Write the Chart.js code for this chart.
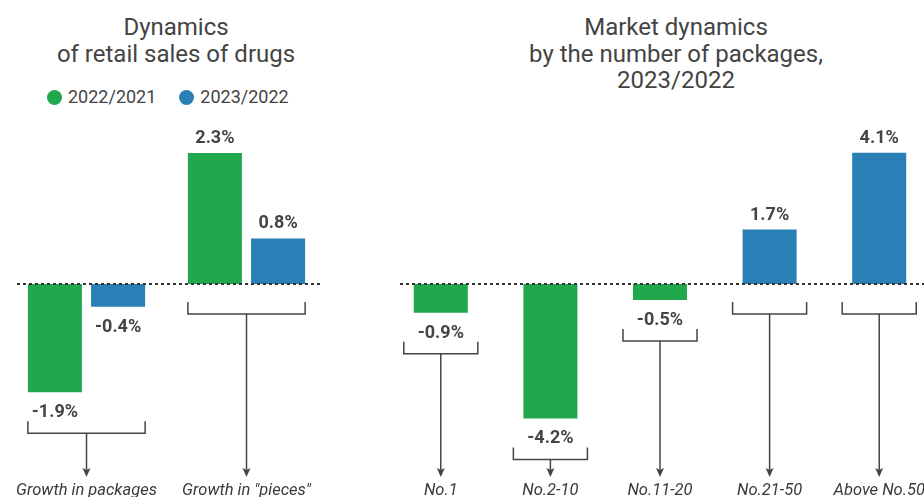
<!DOCTYPE html>
<html>
<head>
<meta charset="utf-8">
<script src="https://cdn.jsdelivr.net/npm/chart.js@4"></script>
<style>
  html, body { margin: 0; padding: 0; background: #fff; }
  body { width: 924px; height: 497px; position: relative; overflow: hidden; font-family: Roboto, "Noto Sans", sans-serif; color: #444; }
  canvas { position: absolute; top: 0; }
  #graficoVendas { left: 0; }
  #graficoPacotes { left: 386px; }
  .titulo { position: absolute; top: 14px; text-align: center; font-size: 24px; line-height: 26.5px; color: #444; white-space: nowrap; }
  #tituloVendas { left: 26px; width: 300px; }
  #tituloPacotes { left: 526px; width: 300px; }
  #legenda { position: absolute; left: 47px; top: 86px; display: flex; align-items: center; font-size: 18px; line-height: 22px; color: #444; }
  #legenda span.item { display: flex; align-items: center; margin-right: 23px; }
  #legenda i { display: inline-block; width: 15px; height: 15px; border-radius: 50%; margin-right: 6px; }
</style>
</head>
<body>
<div class="titulo" id="tituloVendas">Dynamics<br>of retail sales of drugs</div>
<div id="legenda"></div>
<div class="titulo" id="tituloPacotes">Market dynamics<br>by the number of packages,<br>2023/2022</div>
<canvas id="graficoVendas" width="333" height="497"></canvas>
<canvas id="graficoPacotes" width="548" height="497"></canvas>
<script>
// Retail sales: two periods per indicator
const categoriasVendas = ['Growth in packages', 'Growth in "pieces"'];
const series = ['2022/2021', '2023/2022'];
const valores2022 = [-1.9, 2.3];
const valores2023 = [-0.4, 0.8];

// Market by number of packages, 2023/2022
const categoriasPacotes = ['No.1', 'No.2-10', 'No.11-20', 'No.21-50', 'Above No.50'];
const valoresPacotes = [-0.9, -4.2, -0.5, 1.7, 4.1];

const VERDE = '#21a74c';
const AZUL = '#2a80b6';
const TEXTO = '#444';

// legenda em HTML
const legenda = document.getElementById('legenda');
[VERDE, AZUL].forEach((cor, i) => {
  const item = document.createElement('span');
  item.className = 'item';
  item.innerHTML = `<i style="background:${cor}"></i>${series[i]}`;
  legenda.appendChild(item);
});

function formatar(v) {
  return v.toFixed(1) + '%';
}

// Linha zero tracejada, rótulos de valor, colchetes e setas até a categoria
const anotacoes = {
  id: 'anotacoes',
  afterDatasetsDraw(chart, args, opts) {
    const ctx = chart.ctx;
    const x = chart.scales.x;
    const y = chart.scales.y;
    const zero = y.getPixelForValue(0);

    ctx.save();
    // linha do zero
    ctx.strokeStyle = '#333';
    ctx.lineWidth = 2;
    ctx.setLineDash([3, 3]);
    ctx.beginPath();
    ctx.moveTo(opts.linhaDe, zero);
    ctx.lineTo(opts.linhaAte, zero);
    ctx.stroke();
    ctx.setLineDash([]);

    // rótulos
    ctx.fillStyle = TEXTO;
    ctx.font = 'bold 18px Roboto';
    ctx.textAlign = 'center';
    ctx.textBaseline = 'alphabetic';
    chart.data.datasets.forEach((ds, d) => {
      chart.getDatasetMeta(d).data.forEach((barra, i) => {
        const v = ds.data[i];
        if (v >= 0) ctx.fillText(formatar(v), barra.x, barra.y - 10);
        else ctx.fillText(formatar(v), barra.x, barra.y + 25);
      });
    });

    // colchetes e setas
    ctx.strokeStyle = TEXTO;
    ctx.lineWidth = 1.5;
    chart.data.labels.forEach((rotulo, i) => {
      let esq = Infinity, dir = -Infinity, topo = zero + 18;
      chart.data.datasets.forEach((ds, d) => {
        const barra = chart.getDatasetMeta(d).data[i];
        esq = Math.min(esq, barra.x - barra.width / 2 - opts.folga);
        dir = Math.max(dir, barra.x + barra.width / 2 + opts.folga);
        if (ds.data[i] < 0) topo = Math.max(topo, barra.y + 29);
      });
      const cx = x.getPixelForValue(i);
      const base = topo + 12;
      ctx.beginPath();
      ctx.moveTo(esq, topo);
      ctx.lineTo(esq, base);
      ctx.lineTo(dir, base);
      ctx.lineTo(dir, topo);
      ctx.moveTo(cx, base);
      ctx.lineTo(cx, 470);
      ctx.stroke();
      // ponta da seta
      ctx.beginPath();
      ctx.moveTo(cx, 477);
      ctx.lineTo(cx - 4, 468);
      ctx.lineTo(cx, 470);
      ctx.lineTo(cx + 4, 468);
      ctx.closePath();
      ctx.fillStyle = TEXTO;
      ctx.fill();

      ctx.fillStyle = '#3a3a3a';
      ctx.font = 'italic 16.5px Roboto';
      ctx.fillText(rotulo, cx, 495);
    });
    ctx.restore();
  }
};

const escalas = (min, max) => ({
  x: { display: false },
  y: { display: false, min: min, max: max }
});

new Chart(document.getElementById('graficoVendas'), {
  type: 'bar',
  data: {
    labels: categoriasVendas,
    datasets: [
      { label: series[0], data: valores2022, backgroundColor: VERDE },
      { label: series[1], data: valores2023, backgroundColor: AZUL }
    ]
  },
  options: {
    responsive: false,
    animation: false,
    categoryPercentage: 0.79,
    barPercentage: 0.855,
    layout: { padding: { top: 113, bottom: 13.5, left: 6.5, right: 6.5 } },
    scales: escalas(-3.5, 3),
    plugins: {
      legend: { display: false },
      tooltip: { enabled: false },
      anotacoes: { linhaDe: 17, linhaAte: 320, folga: 0 }
    }
  },
  plugins: [anotacoes]
});

new Chart(document.getElementById('graficoPacotes'), {
  type: 'bar',
  data: {
    labels: categoriasPacotes,
    datasets: [{
      label: '2023/2022',
      data: valoresPacotes,
      backgroundColor: valoresPacotes.map(v => v < 0 ? VERDE : AZUL)
    }]
  },
  options: {
    responsive: false,
    animation: false,
    categoryPercentage: 1,
    barPercentage: 0.493,
    layout: { padding: { top: 124, bottom: 21, left: 0, right: 0 } },
    scales: escalas(-6, 5),
    plugins: {
      legend: { display: false },
      tooltip: { enabled: false },
      anotacoes: { linhaDe: 14, linhaAte: 548, folga: 10 }
    }
  },
  plugins: [anotacoes]
});
</script>
</body>
</html>
